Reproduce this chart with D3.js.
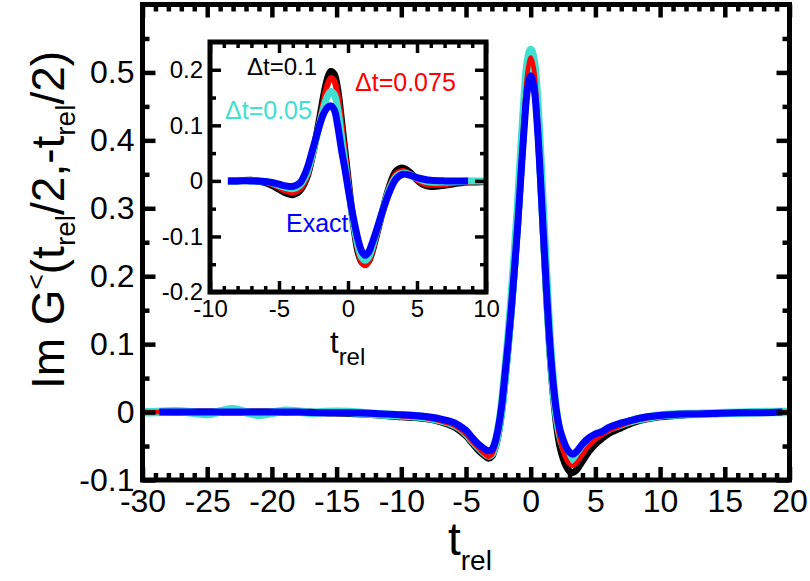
<!DOCTYPE html>
<html><head><meta charset="utf-8">
<script src="https://cdn.jsdelivr.net/npm/d3@7"></script>
<style>body{margin:0;background:#fff}svg{display:block}text{font-family:"Liberation Sans",Arial,Helvetica,sans-serif}</style>
</head><body>
<svg id="c" width="810" height="581"></svg>
<script>
// ---------- data ----------
const seriesNames = ["Δt=0.1", "Δt=0.075", "Δt=0.05", "Exact"];
const seriesColors = ["#000000", "#ff0000", "#40e0d0", "#0000ff"];

// main panel
const tMain = [-30,-29,-28,-27,-26,-25,-24,-23,-22,-21,-20,-19,-18,-17,-16,-14,-12,-10,-9,-8,-7,-6,-5.5,-5,-4.5,-4,-3.5,-3.25,-3,-2.75,-2.5,-2.25,-2,-1.75,-1.5,-1.25,-1,-0.75,-0.5,-0.25,0,0.25,0.5,0.75,1,1.25,1.5,1.75,2,2.25,2.5,2.75,3,3.25,3.5,4,4.5,5,5.5,6,7,8,9,10,12,14,16,18,20];
const mainDt01 = [0,0,0,0,0,0,0,0,0,0,0,0,0,0,-0.001,-0.002,-0.004,-0.007,-0.008,-0.010,-0.014,-0.021,-0.027,-0.035,-0.046,-0.057,-0.065,-0.068,-0.065,-0.053,-0.032,0.000,0.044,0.094,0.150,0.213,0.281,0.358,0.432,0.490,0.512,0.495,0.438,0.352,0.256,0.164,0.084,0.024,-0.020,-0.050,-0.068,-0.080,-0.087,-0.089,-0.086,-0.072,-0.058,-0.047,-0.039,-0.032,-0.023,-0.015,-0.010,-0.007,-0.004,-0.002,-0.001,0,0];
const mainDt0075 = [0,0,0,0,0,0,0,0,0,0,0,0,0,0,-0.001,-0.002,-0.003,-0.006,-0.007,-0.009,-0.013,-0.019,-0.025,-0.033,-0.044,-0.054,-0.063,-0.066,-0.063,-0.051,-0.029,0.003,0.048,0.098,0.155,0.219,0.288,0.366,0.442,0.500,0.522,0.505,0.448,0.362,0.265,0.173,0.092,0.032,-0.012,-0.040,-0.058,-0.070,-0.077,-0.079,-0.076,-0.063,-0.050,-0.041,-0.034,-0.028,-0.020,-0.013,-0.009,-0.006,-0.003,-0.002,-0.001,0,0];
const mainDt005 = [0,0,0.001,0.001,-0.001,-0.003,0.001,0.004,0,-0.004,-0.001,0.002,0.001,-0.001,0,0,-0.003,-0.005,-0.006,-0.008,-0.012,-0.018,-0.023,-0.031,-0.042,-0.052,-0.061,-0.064,-0.061,-0.048,-0.026,0.006,0.053,0.103,0.161,0.226,0.296,0.376,0.453,0.512,0.533,0.515,0.458,0.370,0.272,0.180,0.098,0.038,-0.005,-0.032,-0.049,-0.060,-0.067,-0.069,-0.066,-0.053,-0.042,-0.035,-0.030,-0.025,-0.018,-0.012,-0.008,-0.005,-0.003,-0.002,-0.001,0,0];
const tExactMain = [-28.7,-26,-22,-18,-16,-14,-12,-10,-9,-8,-7,-6,-5.5,-5,-4.5,-4,-3.5,-3.25,-3,-2.75,-2.5,-2.25,-2,-1.75,-1.5,-1.25,-1,-0.75,-0.5,-0.25,0,0.25,0.5,0.75,1,1.25,1.5,1.75,2,2.25,2.5,2.75,3,3.25,3.5,4,4.5,5,5.5,6,7,8,9,10,12,14,16,18,19.45];
const mainExact = [0,0,0,0,-0.001,-0.001,-0.002,-0.004,-0.005,-0.007,-0.010,-0.015,-0.020,-0.027,-0.038,-0.048,-0.055,-0.057,-0.055,-0.044,-0.023,0.008,0.053,0.100,0.152,0.212,0.276,0.350,0.420,0.475,0.495,0.478,0.425,0.345,0.255,0.170,0.095,0.040,0.000,-0.025,-0.040,-0.052,-0.059,-0.062,-0.059,-0.047,-0.038,-0.032,-0.029,-0.023,-0.016,-0.011,-0.007,-0.005,-0.003,-0.002,-0.001,-0.001,0];

// inset panel
const tInset = [-8.7,-8,-7,-6,-5.5,-5,-4.5,-4,-3.5,-3,-2.5,-2,-1.75,-1.5,-1.25,-1,-0.75,-0.5,-0.25,0,0.25,0.5,0.75,1,1.25,1.5,1.75,2,2.5,3,3.5,4,4.5,5,5.5,6,7,8,8.7,9,10];
const insetDt01 = [0,0,0.001,-0.003,-0.008,-0.015,-0.022,-0.025,-0.018,0.005,0.055,0.120,0.155,0.183,0.197,0.192,0.165,0.115,0.060,0.005,-0.050,-0.096,-0.130,-0.146,-0.150,-0.144,-0.127,-0.104,-0.055,-0.010,0.018,0.023,0.015,0.002,-0.007,-0.010,-0.008,-0.004,-0.002,-0.002,-0.001];
const insetDt0075 = [0,0,0.001,-0.002,-0.006,-0.012,-0.018,-0.021,-0.015,0.006,0.053,0.113,0.145,0.172,0.185,0.180,0.155,0.108,0.055,0.002,-0.050,-0.094,-0.128,-0.147,-0.152,-0.145,-0.127,-0.103,-0.055,-0.012,0.013,0.018,0.012,0.002,-0.005,-0.007,-0.006,-0.003,-0.002,-0.001,-0.001];
const insetDt005 = [0,0,0,-0.001,-0.004,-0.008,-0.012,-0.014,-0.008,0.012,0.056,0.108,0.133,0.152,0.161,0.156,0.130,0.085,0.038,-0.010,-0.052,-0.090,-0.120,-0.138,-0.143,-0.137,-0.120,-0.098,-0.054,-0.015,0.008,0.014,0.011,0.005,0,-0.002,-0.002,-0.001,0,0,0];
const tExactInset = [-8.7,-8,-7,-6,-5.5,-5,-4.5,-4,-3.5,-3,-2.5,-2,-1.75,-1.5,-1.25,-1,-0.75,-0.5,-0.25,0,0.25,0.5,0.75,1,1.25,1.5,1.75,2,2.5,3,3.5,4,4.5,5,5.5,6,7,8,8.7];
const insetExact = [0,0,0,-0.001,-0.003,-0.006,-0.009,-0.010,-0.004,0.020,0.062,0.105,0.122,0.132,0.135,0.128,0.100,0.060,0.025,-0.012,-0.048,-0.080,-0.108,-0.127,-0.134,-0.128,-0.112,-0.094,-0.055,-0.020,0.004,0.012,0.010,0.006,0.003,0.001,0,0,0];

const mainXMajor = [-30,-25,-20,-15,-10,-5,0,5,10,15,20];
const mainYMajor = [-0.1,0,0.1,0.2,0.3,0.4,0.5];
const insetXMajor = [-10,-5,0,5,10];
const insetYMajor = [-0.2,-0.1,0,0.1,0.2];

// ---------- drawing ----------
const svg = d3.select("#c");
const fmt = v => (Math.abs(v) < 1e-9 ? "0" : String(+v.toFixed(2)));  // plain hyphen minus

function frame(g, x, y, xMaj, xMin, yMaj, yMin, o) {
  const [x0, x1] = x.range(), [y0, y1] = y.range();
  const addAxis = (axis, tr, withLabels) => {
    const a = g.append("g").attr("transform", tr).call(axis);
    a.select(".domain").remove();
    a.selectAll(".tick line").attr("stroke", "#000").attr("stroke-width", o.tw);
    a.selectAll("text").attr("fill", "#000").style("font-size", o.fs + "px");
    if (!withLabels) a.selectAll("text").remove();
    return a;
  };
  addAxis(d3.axisBottom(x).tickValues(xMaj).tickSize(-o.maj).tickPadding(o.xpad).tickFormat(fmt), `translate(0,${y0})`, true);
  addAxis(d3.axisBottom(x).tickValues(xMin).tickSize(-o.min).tickFormat(""), `translate(0,${y0})`, false);
  addAxis(d3.axisTop(x).tickValues(xMaj).tickSize(-o.maj).tickFormat(""), `translate(0,${y1})`, false);
  addAxis(d3.axisTop(x).tickValues(xMin).tickSize(-o.min).tickFormat(""), `translate(0,${y1})`, false);
  addAxis(d3.axisLeft(y).tickValues(yMaj).tickSize(-o.maj).tickPadding(o.ypad).tickFormat(fmt), `translate(${x0},0)`, true);
  addAxis(d3.axisLeft(y).tickValues(yMin).tickSize(-o.min).tickFormat(""), `translate(${x0},0)`, false);
  addAxis(d3.axisRight(y).tickValues(yMaj).tickSize(-o.maj).tickFormat(""), `translate(${x1},0)`, false);
  addAxis(d3.axisRight(y).tickValues(yMin).tickSize(-o.min).tickFormat(""), `translate(${x1},0)`, false);
  g.append("rect").attr("x", x0).attr("y", y1).attr("width", x1 - x0).attr("height", y0 - y1)
    .attr("fill", "none").attr("stroke", "#000").attr("stroke-width", o.fw);
}

function curves(g, x, y, sets, widths) {
  sets.forEach((s, i) => {
    const pts = s.t.map((t, k) => [t, s.v[k]]);
    const line = d3.line().x(d => x(d[0])).y(d => y(d[1])).curve(d3.curveCatmullRom.alpha(0.5));
    g.append("path").attr("d", line(pts)).attr("fill", "none")
      .attr("stroke", s.c).attr("stroke-width", widths[i]).attr("stroke-linejoin", "round");
  });
}

function richText(g, x, y, parts, anchor, transform) {
  const t = g.append("text").attr("x", x).attr("y", y).attr("text-anchor", anchor || "start").attr("fill", "#000");
  if (transform) t.attr("transform", transform);
  parts.forEach(p => {
    const ts = t.append("tspan").text(p.s).style("font-size", p.fs + "px");
    if (p.dy) ts.attr("dy", p.dy);
  });
  return t;
}

// main panel
const x = d3.scaleLinear().domain([-30, 20]).range([142.5, 789.5]);
const y = d3.scaleLinear().domain([-0.1, 0.6]).range([480, 4.5]);
const gm = svg.append("g");
const mainOrder = [
  {t: tMain, v: mainDt01, c: seriesColors[0]},
  {t: tMain, v: mainDt005, c: seriesColors[2]},
  {t: tMain, v: mainDt0075, c: seriesColors[1]},
  {t: tExactMain, v: mainExact, c: seriesColors[3]}
];
curves(gm, x, y, mainOrder, [7, 8.5, 4.5, 7]);
frame(gm, x, y, mainXMajor, d3.range(-30, 21, 1).filter(v => v % 5 !== 0), mainYMajor,
  [-0.05, 0.05, 0.15, 0.25, 0.35, 0.45, 0.55],
  {maj: 13, min: 7, tw: 4.5, fw: 5, fs: 32, xpad: 9, ypad: 8});

// axis titles
richText(svg, 448, 555, [{s: "t", fs: 46}, {s: "rel", fs: 28, dy: 15}], "start");
richText(svg, 0, 0, [
  {s: "Im G", fs: 46}, {s: "<", fs: 26, dy: -19}, {s: "(t", fs: 46, dy: 19},
  {s: "rel", fs: 28, dy: 11}, {s: "/2,-t", fs: 46, dy: -11}, {s: "rel", fs: 28, dy: 11},
  {s: "/2)", fs: 46, dy: -11}
], "middle", "translate(64,220) rotate(-90)");

// inset panel
const xi = d3.scaleLinear().domain([-10, 10]).range([210, 486]);
const yi = d3.scaleLinear().domain([-0.2, 0.25]).range([292, 42]);
const gi = svg.append("g");
gi.append("rect").attr("x", 210).attr("y", 42).attr("width", 276).attr("height", 250).attr("fill", "#fff");
const insetOrder = [
  {t: tInset, v: insetDt01, c: seriesColors[0]},
  {t: tInset, v: insetDt0075, c: seriesColors[1]},
  {t: tInset, v: insetDt005, c: seriesColors[2]},
  {t: tExactInset, v: insetExact, c: seriesColors[3]}
];
curves(gi, xi, yi, insetOrder, [7, 6, 7, 7]);
frame(gi, xi, yi, insetXMajor, d3.range(-10, 11, 1).filter(v => v % 5 !== 0), insetYMajor,
  [-0.15, -0.05, 0.05, 0.15],
  {maj: 11, min: 6, tw: 3.5, fs: 24, fw: 5, xpad: 8, ypad: 7});

richText(svg, 330, 353, [{s: "t", fs: 31}, {s: "rel", fs: 24, dy: 12}], "start");

// series labels in the inset
const labelPos = [[247, 75, 24], [355, 91, 25], [225, 119, 25], [286, 232, 25]];
seriesNames.forEach((n, i) => {
  svg.append("text").attr("x", labelPos[i][0]).attr("y", labelPos[i][1])
    .style("font-size", labelPos[i][2] + "px").attr("fill", seriesColors[i]).text(n);
});
</script>
</body></html>
